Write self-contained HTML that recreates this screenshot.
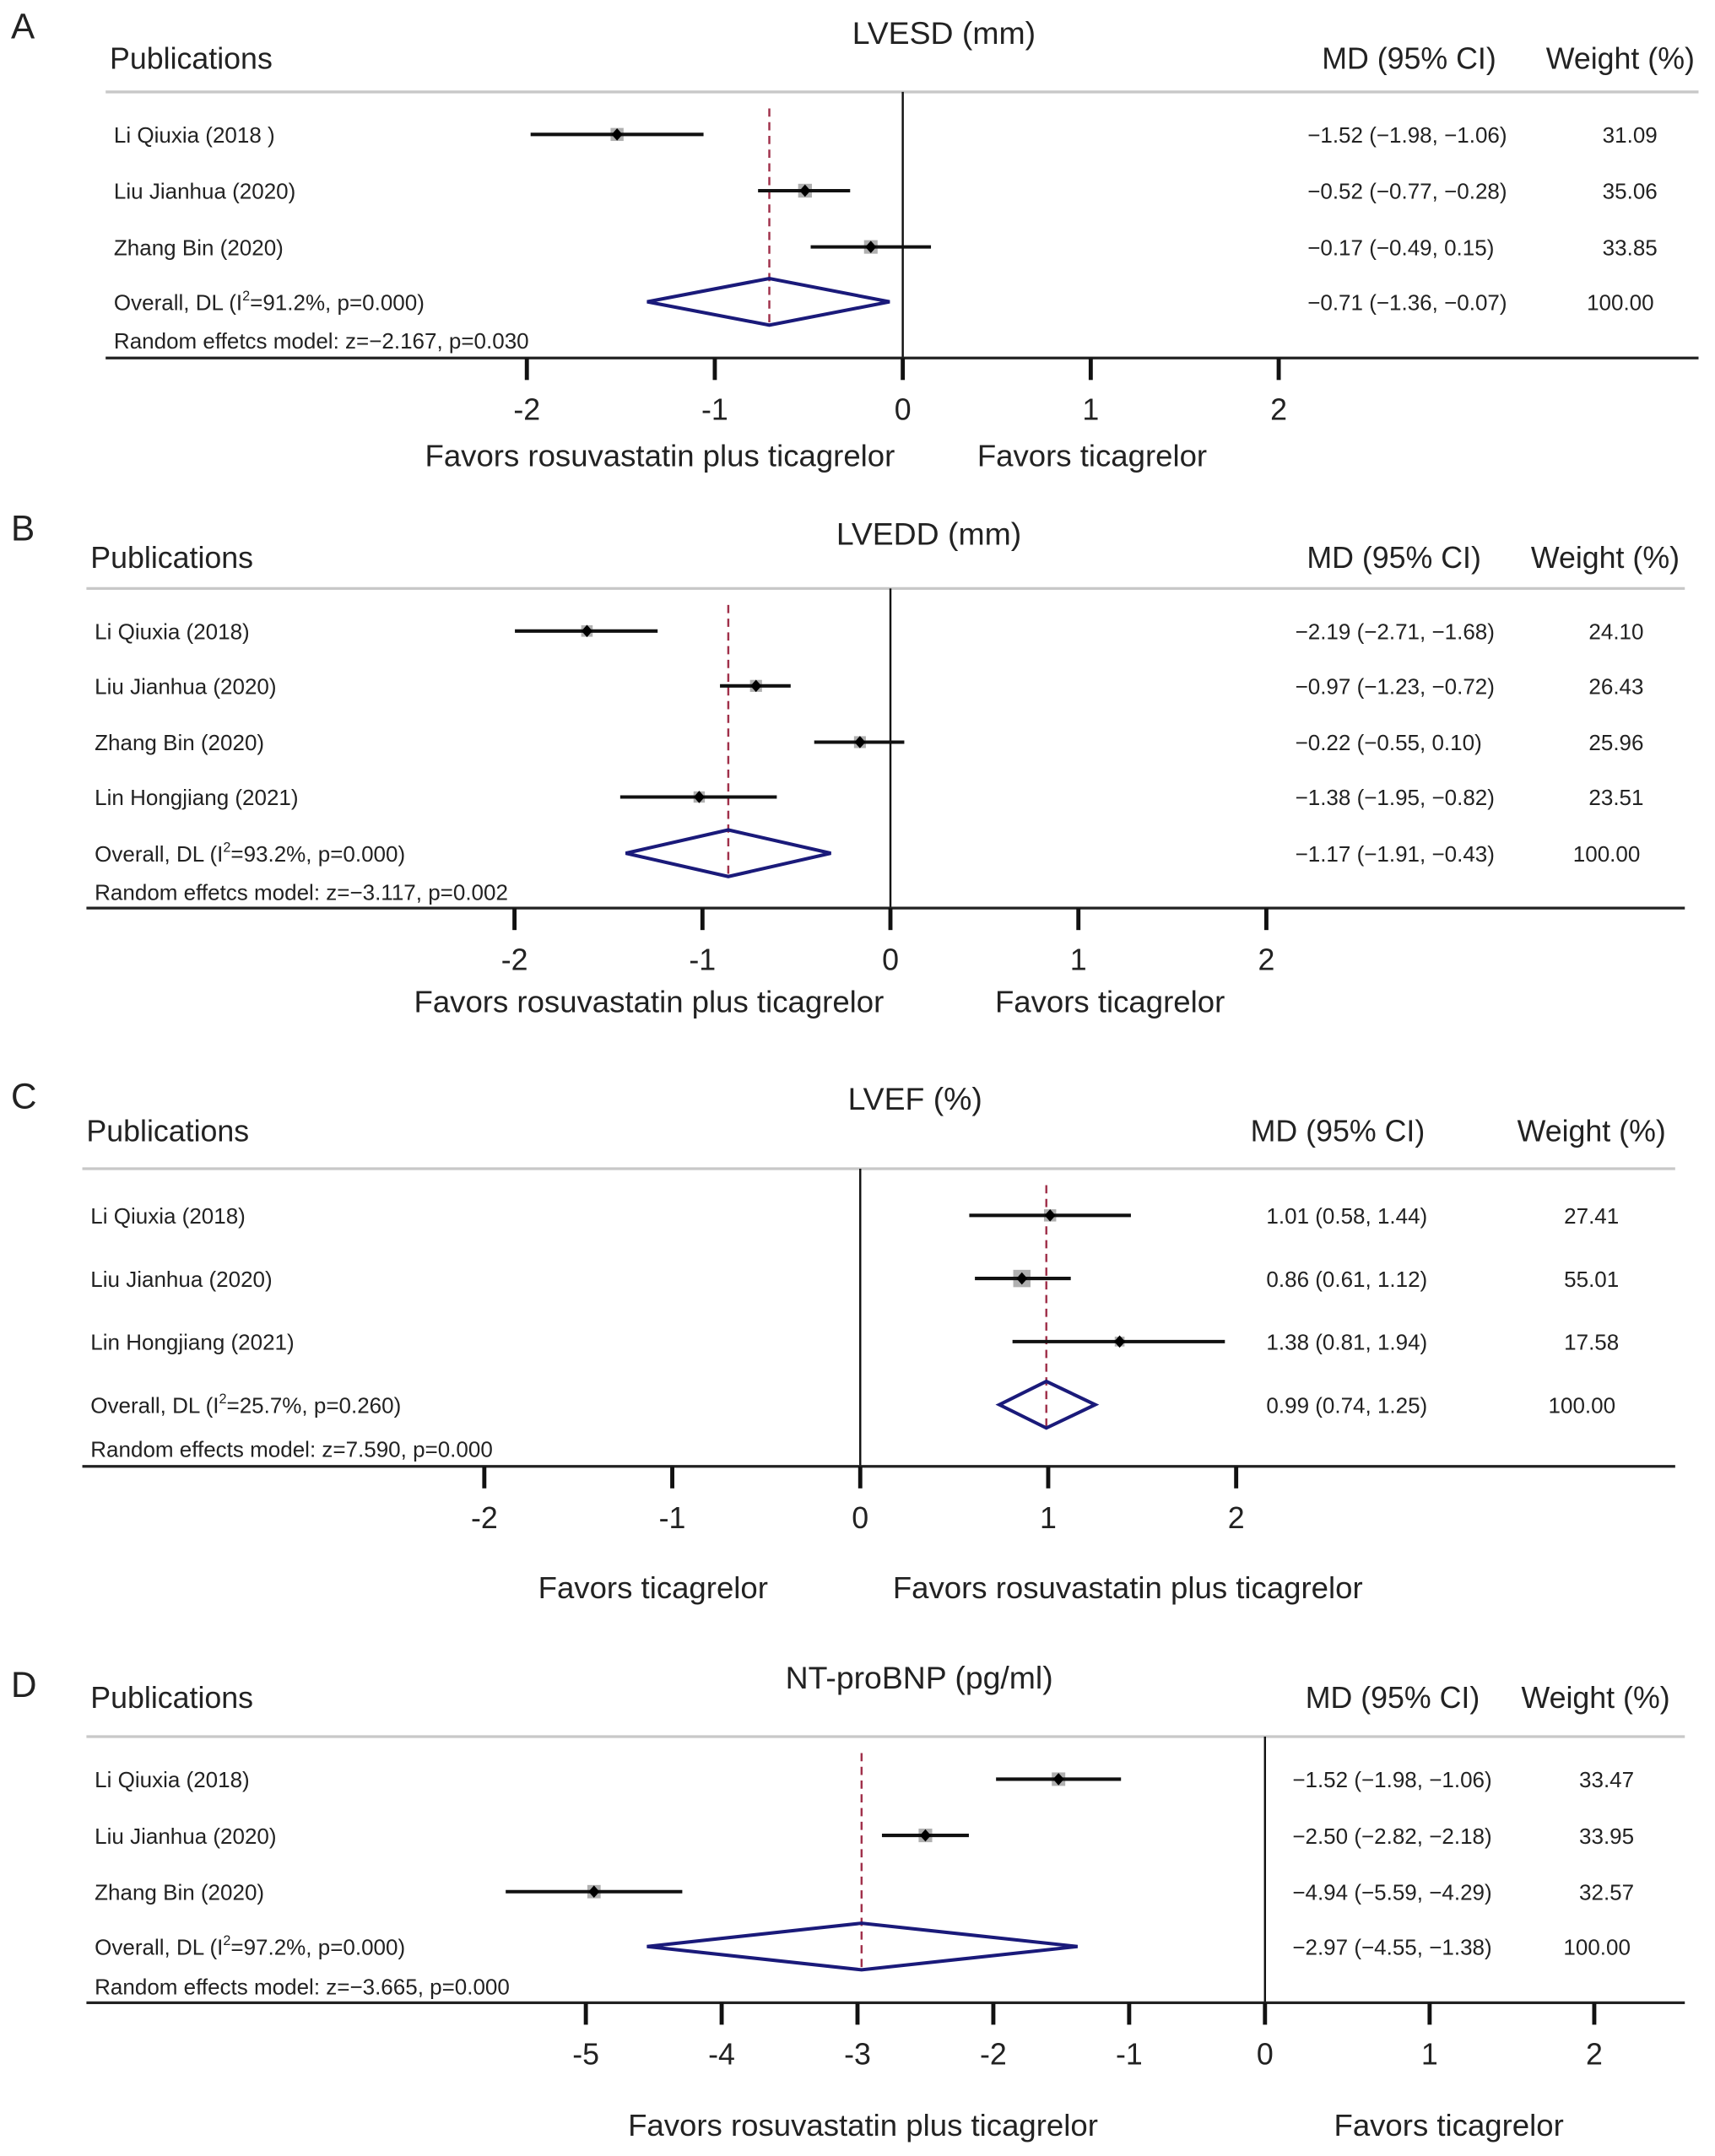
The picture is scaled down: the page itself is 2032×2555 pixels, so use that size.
<!DOCTYPE html>
<html><head><meta charset="utf-8"><style>
html,body{margin:0;padding:0;background:#fff}
svg{display:block}
text{font-family:"Liberation Sans",sans-serif;fill:#222}
</style></head><body>
<svg id="fig" width="2032" height="2555" viewBox="0 0 1250 1571.7" xmlns="http://www.w3.org/2000/svg"></svg>
<script>
// ---- data ----
const studiesA = ["Li Qiuxia (2018 )","Liu Jianhua (2020)","Zhang Bin (2020)"];
const mdA = [-1.52,-0.52,-0.17];
const loA = [-1.98,-0.77,-0.49];
const hiA = [-1.06,-0.28,0.15];
const wtA = [31.09,35.06,33.85];
const overallA = [-0.71,-1.36,-0.07];
const ticksA = [-2,-1,0,1,2];

const studiesB = ["Li Qiuxia (2018)","Liu Jianhua (2020)","Zhang Bin (2020)","Lin Hongjiang (2021)"];
const mdB = [-2.19,-0.97,-0.22,-1.38];
const loB = [-2.71,-1.23,-0.55,-1.95];
const hiB = [-1.68,-0.72,0.10,-0.82];
const wtB = [24.10,26.43,25.96,23.51];
const overallB = [-1.17,-1.91,-0.43];
const ticksB = [-2,-1,0,1,2];

const studiesC = ["Li Qiuxia (2018)","Liu Jianhua (2020)","Lin Hongjiang (2021)"];
const mdC = [1.01,0.86,1.38];
const loC = [0.58,0.61,0.81];
const hiC = [1.44,1.12,1.94];
const wtC = [27.41,55.01,17.58];
const overallC = [0.99,0.74,1.25];
const ticksC = [-2,-1,0,1,2];

const studiesD = ["Li Qiuxia (2018)","Liu Jianhua (2020)","Zhang Bin (2020)"];
const mdD = [-1.52,-2.50,-4.94];
const loD = [-1.98,-2.82,-5.59];
const hiD = [-1.06,-2.18,-4.29];
const wtD = [33.47,33.95,32.57];
const overallD = [-2.97,-4.55,-1.38];
const ticksD = [-5,-4,-3,-2,-1,0,1,2];

const NS="http://www.w3.org/2000/svg";
const svg=document.getElementById('fig');
function el(tag,attrs,parent){const e=document.createElementNS(NS,tag);for(const k in attrs)e.setAttribute(k,attrs[k]);(parent||svg).appendChild(e);return e;}
function txt(s,x,y,size,anchor,parent){const t=el('text',{x:x,y:y,'font-size':size,'text-anchor':anchor||'start'},parent);t.textContent=s;return t;}
const fmt=v=>(v<0?'\u2212':'')+Math.abs(v).toFixed(2);

function panel(cfg){
  const g=el('g',{});
  
  
  const dx=v=>cfg.zero+v*cfg.dpx;
  const tx=v=>cfg.zero+v*(v<0?cfg.tneg:cfg.tpos);
  let t=txt(cfg.letter,cfg.lx,cfg.ly,26,'start',g);
  
  t=txt(cfg.title,cfg.titleX,cfg.titleY,23,'middle',g);
  
  t=txt('Publications',cfg.x0+3,cfg.hy,22,'start',g);
  
  t=txt('MD (95% CI)',cfg.mdX,cfg.hy,22,'middle',g);
  
  t=txt('Weight (%)',cfg.wX,cfg.hy,22,'middle',g);
  
  let l=el('line',{x1:cfg.x0,x2:cfg.x1,y1:cfg.hl,y2:cfg.hl,stroke:'#c8c8c8','stroke-width':2},g);
  
  l=el('line',{x1:cfg.zero,x2:cfg.zero,y1:cfg.hl,y2:cfg.ax,stroke:'#111','stroke-width':1.5},g);
  
  l=el('line',{x1:cfg.x0,x2:cfg.x1,y1:cfg.ax,y2:cfg.ax,stroke:'#222','stroke-width':2},g);
  
  cfg.ticks.forEach(v=>{
    const m=el('line',{x1:tx(v),x2:tx(v),y1:cfg.ax,y2:cfg.ax+16,stroke:'#111','stroke-width':3},g);
    
    const s=txt(String(v),tx(v),cfg.ax+45,22,'middle',g);
    
  });
  const ov=cfg.overall;
  const rows=cfg.rows;
  const oy=rows[rows.length-1];
  l=el('line',{x1:dx(ov[0]),x2:dx(ov[0]),y1:cfg.hl+12,y2:oy+19,stroke:'#a0304a','stroke-width':1.5,'stroke-dasharray':'6,4'},g);
  
  cfg.studies.forEach((s,i)=>{
    const y=rows[i];
    const n=txt(s,cfg.x0+6,y+6,16,'start',g);
    
    const sz=Math.sqrt(cfg.wt[i])*1.7;
    const sq=el('rect',{x:dx(cfg.md[i])-sz/2,y:y-sz/2,width:sz,height:sz,fill:'#b0b0b0'},g);
    
    const ci=el('line',{x1:dx(cfg.lo[i]),x2:dx(cfg.hi[i]),y1:y,y2:y,stroke:'#111','stroke-width':2.5},g);
    
    const px=dx(cfg.md[i]);
    const pt=el('polygon',{points:`${px-4},${y} ${px},${y-4.5} ${px+4},${y} ${px},${y+4.5}`,fill:'#000'},g);
    
    const c=txt(fmt(cfg.md[i])+' ('+fmt(cfg.lo[i])+', '+fmt(cfg.hi[i])+')',cfg.ciX,y+6,16,'start',g);
    
    const w=txt(cfg.wt[i].toFixed(2),cfg.wvX,y+6,16,'middle',g);
    
  });
  const ot=el('text',{x:cfg.x0+6,y:oy+6,'font-size':16},g);
  ot.innerHTML='Overall, DL (I<tspan font-size="10" dy="-7">2</tspan><tspan dy="7">='+cfg.i2+')</tspan>';
  
  const d=el('polygon',{points:`${dx(ov[1])},${oy} ${dx(ov[0])},${oy-17} ${dx(ov[2])},${oy} ${dx(ov[0])},${oy+17}`,fill:'none',stroke:'#1a1a7a','stroke-width':2.5},g);
  
  const oc=txt(fmt(ov[0])+' ('+fmt(ov[1])+', '+fmt(ov[2])+')',cfg.ciX,oy+6,16,'start',g);
  
  const ow=txt('100.00',cfg.wvX-7,oy+6,16,'middle',g);
  
  const r=txt(cfg.re,cfg.x0+6,cfg.rey,16,'start',g);
  
  const f1=txt(cfg.fav[0],cfg.fav[1],cfg.favY,22.5,'middle',g);
  
  const f2=txt(cfg.fav[2],cfg.fav[3],cfg.favY,22.5,'middle',g);
  
}

panel({letter:'A',lx:8,ly:28,title:'LVESD (mm)',titleX:688,titleY:32,hy:50,x0:77,x1:1238,hl:67,ax:261,
  zero:658,dpx:137,tneg:137,tpos:137,ticks:ticksA,rows:[98,139,180,220],rey:254,
  studies:studiesA,md:mdA,lo:loA,hi:hiA,wt:wtA,overall:overallA,i2:'91.2%, p=0.000',
  re:'Random effetcs model: z=\u22122.167, p=0.030',mdX:1027,wX:1181,ciX:953,wvX:1188,
  fav:['Favors rosuvastatin plus ticagrelor',481,'Favors ticagrelor',796],favY:340});
panel({letter:'B',lx:8,ly:394,title:'LVEDD (mm)',titleX:677,titleY:397,hy:414,x0:63,x1:1228,hl:429,ax:662,
  zero:649,dpx:101,tneg:137,tpos:137,ticks:ticksB,rows:[460,500,541,581,622],rey:656,
  studies:studiesB,md:mdB,lo:loB,hi:hiB,wt:wtB,overall:overallB,i2:'93.2%, p=0.000',
  re:'Random effetcs model: z=\u22123.117, p=0.002',mdX:1016,wX:1170,ciX:944,wvX:1178,
  fav:['Favors rosuvastatin plus ticagrelor',473,'Favors ticagrelor',809],favY:738});
panel({letter:'C',lx:8,ly:808,title:'LVEF (%)',titleX:667,titleY:809,hy:832,x0:60,x1:1221,hl:852,ax:1069,
  zero:627,dpx:137,tneg:137,tpos:137,ticks:ticksC,rows:[886,932,978,1024],rey:1062,
  studies:studiesC,md:mdC,lo:loC,hi:hiC,wt:wtC,overall:overallC,i2:'25.7%, p=0.260',
  re:'Random effects model: z=7.590, p=0.000',mdX:975,wX:1160,ciX:923,wvX:1160,
  fav:['Favors ticagrelor',476,'Favors rosuvastatin plus ticagrelor',822],favY:1165});
panel({letter:'D',lx:8,ly:1237,title:'NT-proBNP (pg/ml)',titleX:670,titleY:1231,hy:1245,x0:63,x1:1228,hl:1266,ax:1460,
  zero:922,dpx:99,tneg:99,tpos:120,ticks:ticksD,rows:[1297,1338,1379,1419],rey:1454,
  studies:studiesD,md:mdD,lo:loD,hi:hiD,wt:wtD,overall:overallD,i2:'97.2%, p=0.000',
  re:'Random effects model: z=\u22123.665, p=0.000',mdX:1015,wX:1163,ciX:942,wvX:1171,
  fav:['Favors rosuvastatin plus ticagrelor',629,'Favors ticagrelor',1056],favY:1557});
</script>
</body></html>
